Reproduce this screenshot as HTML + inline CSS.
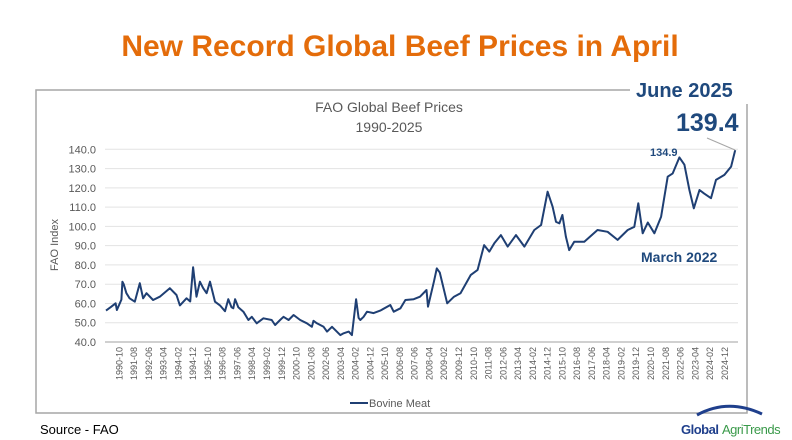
<!DOCTYPE html>
<html><head><meta charset="utf-8"><style>
body{margin:0;background:#fff;width:792px;height:440px;overflow:hidden;font-family:"Liberation Sans",sans-serif}
svg{display:block}
</style></head><body>
<svg id="chart" width="792" height="440">
<text x="400" y="56" text-anchor="middle" font-size="30" font-weight="bold" fill="#e46c0a">New Record Global Beef Prices in April</text>
<path d="M630 90 H36 V413 H747 V104" fill="none" stroke="#a6a6a6" stroke-width="1.5"/>
<text x="389" y="112" text-anchor="middle" font-size="14" fill="#595959">FAO Global Beef Prices</text>
<text x="389" y="132" text-anchor="middle" font-size="14" fill="#595959">1990-2025</text>
<text transform="translate(58,245) rotate(-90)" text-anchor="middle" font-size="11" fill="#595959">FAO Index</text>
<g id="grid"></g><g id="yticks"></g><g id="xticks"></g>
<path id="line" fill="none" stroke="#1f3f73" stroke-width="2" stroke-linejoin="round"/>
<text x="636" y="97" font-size="20" font-weight="bold" fill="#1f497d">June 2025</text>
<text x="676" y="131" font-size="25" font-weight="bold" fill="#1f497d">139.4</text>
<line x1="707" y1="138" x2="735" y2="150" stroke="#a6a6a6" stroke-width="1"/>
<text x="650" y="156" font-size="11" font-weight="bold" fill="#1f497d">134.9</text>
<text x="641" y="262" font-size="14" font-weight="bold" fill="#1f497d">March 2022</text>
<g>
<line x1="350" y1="403" x2="368" y2="403" stroke="#1f3f73" stroke-width="2"/>
<text x="369" y="407" font-size="11" fill="#595959">Bovine Meat</text>
</g>
<text x="40" y="434" font-size="13" fill="#000">Source - FAO</text>
<g>
<path d="M697 415 Q728 398 762 414" fill="none" stroke="#1f3f8c" stroke-width="3"/>
<text x="681" y="434" font-size="13" font-weight="bold" fill="#1f3f8c" letter-spacing="-0.5">Global</text>
<text x="722" y="434" font-size="13" fill="#3a9a4a" letter-spacing="-0.5">AgriTrends</text>
</g>
</svg>
<script>
const months=[0,3.6,6.5,7.4,10.4,11.1,12,13.8,16,19.5,22.9,25.1,27.4,31.9,36.4,43.2,47.7,50,54.5,57,59,61.3,63.6,65.8,68.1,70.4,73.8,77.2,80.6,82.8,85,86.2,87.4,89.6,93,96.4,98.7,102,106.6,112.2,114.5,117.9,120.2,123.6,127,131.5,136,139.4,140.5,142.8,147.3,149.6,153,158.6,160.9,164.3,166.5,169.3,171,172.2,174.4,176.7,181.2,185.7,192.5,194.8,199.3,202.7,208.3,212.6,217,218,222,224,226,231,235.6,240,247,251.6,256,259.5,262.9,267.4,272,277.6,283.3,290,294.6,299,302.4,304.7,307,309,311.4,313.6,317,323.8,332.8,339.6,346.4,353.2,357.7,360.4,363.4,366.8,371.3,375.8,380.3,383.7,388.2,391.6,395,398,401.8,405,409.6,413,418.7,423.2,426];
const values=[56.3,58.3,60.1,56.6,62,71.3,70,65.3,62.7,60.9,70.5,62.7,65.3,61.8,63.5,67.9,64.4,59,62.7,61,78.8,63.5,71.3,67.9,65.3,71.3,60.9,59,56,62.2,58,57.5,62.2,58,55.7,51.4,53.1,49.7,52.3,51.4,48.8,51.4,53.1,51.4,54,51.4,49.7,47.9,51,49.7,47.9,45.4,47.9,43.6,44.5,45.4,43.6,62.2,52.5,51.4,53.1,55.7,55,56.3,59.2,55.7,57.5,61.8,62.2,63.5,67,58.3,71.3,78.2,76,60.1,63.5,65.3,74.8,77.4,90.3,86.9,91.2,95.5,89.5,95.5,89.5,98.1,100.7,118,110.2,102.4,101.6,105.9,94.6,87.7,92,92,98.1,97.2,93,98.1,99.8,112,96.4,102,96.4,105,125.8,127.5,135.8,132,118.9,109.4,118.9,117,114.6,124.1,126.7,131,139.6];
const yTicks=[40,50,60,70,80,90,100,110,120,130,140];
const xStartYear=1990,xStartMonth=10,xStep=10,xCount=42;
const NS="http://www.w3.org/2000/svg";
const X=m=>106+m*1.477, Y=v=>342-(v-40)*1.927;
const grid=document.getElementById('grid'),yt=document.getElementById('yticks'),xt=document.getElementById('xticks');
yTicks.forEach(t=>{
 const l=document.createElementNS(NS,'line');
 l.setAttribute('x1',105);l.setAttribute('x2',738);l.setAttribute('y1',Y(t));l.setAttribute('y2',Y(t));
 l.setAttribute('stroke',t===40?'#d0d0d0':'#e3e3e3');l.setAttribute('stroke-width',t===40?2:1);
 
 
 grid.appendChild(l);
 const s=document.createElementNS(NS,'text');
 s.setAttribute('x',96);s.setAttribute('y',Y(t)+4);s.setAttribute('text-anchor','end');
 s.setAttribute('font-size','11');s.setAttribute('fill','#595959');s.textContent=t.toFixed(1);
 
 
 yt.appendChild(s);
});
for(let i=0;i<xCount;i++){
 const mi=(xStartYear*12+xStartMonth-1)+i*xStep;const yr=Math.floor(mi/12),mo=mi%12+1;
 const m=mi-(1990*12);
 const s=document.createElementNS(NS,'text');
 s.setAttribute('transform',`translate(${X(m)+3},347) rotate(-90)`);
 s.setAttribute('text-anchor','end');s.setAttribute('font-size','9');s.setAttribute('fill','#595959');
 s.textContent=yr+'-'+String(mo).padStart(2,'0');
 
 
 xt.appendChild(s);
}
document.getElementById('line').setAttribute('d',months.map((m,i)=>(i?'L':'M')+X(m).toFixed(1)+' '+Y(values[i]).toFixed(1)).join(' '));
</script>
</body></html>
